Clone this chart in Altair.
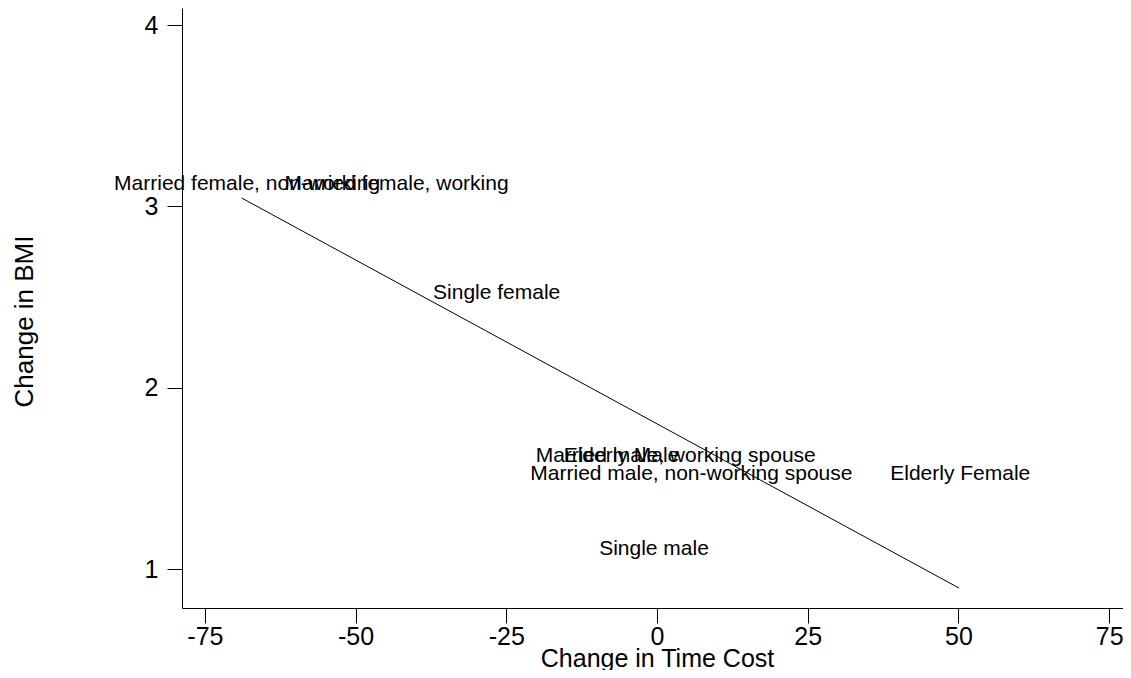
import altair as alt
import pandas as pd

# Group labels and their (change in time cost, change in BMI) values
groups = [
    "Married female, non-working",
    "Married female, working",
    "Single female",
    "Married male, working spouse",
    "Elderly Male",
    "Married male, non-working spouse",
    "Elderly Female",
    "Single male",
]
time_cost = [-68.0, -43.2, -26.6, 3.1, -5.9, 5.7, 50.3, -0.5]
bmi_change = [3.124, 3.124, 2.522, 1.623, 1.623, 1.524, 1.524, 1.110]

# Fitted line end points
fit_x = [-68.9, 50.1]
fit_y = [3.046, 0.895]

x_ticks = [-75, -50, -25, 0, 25, 50, 75]
y_ticks = [1, 2, 3, 4]

FONT = "Liberation Sans"

pts = pd.DataFrame({"x": time_cost, "y": bmi_change, "label": groups})
fit = pd.DataFrame({"x": fit_x, "y": fit_y})

xscale = alt.Scale(domain=[-78.8, 77.3], nice=False, zero=False)
yscale = alt.Scale(domain=[0.785, 4.094], nice=False, zero=False)

xaxis = alt.Axis(
    values=x_ticks, grid=False, domainColor="black", tickColor="black",
    tickSize=15, labelFontSize=25, labelFont=FONT, labelColor="black",
    labelPadding=1, labelExpr="toString(datum.value)",
    title="Change in Time Cost", titleFont=FONT,
    titleFontSize=25, titleFontWeight="normal", titleColor="black",
    titleX=475, titleY=58, titleAlign="center", titleBaseline="alphabetic",
)
yaxis = alt.Axis(
    values=y_ticks, grid=False, domainColor="black", tickColor="black",
    tickSize=15, labelFontSize=25, labelFont=FONT, labelColor="black",
    labelPadding=9, labelExpr="toString(datum.value)",
    title="Change in BMI", titleFont=FONT,
    titleFontSize=26, titleFontWeight="normal", titleColor="black",
    titleAngle=270, titleX=-158, titleY=313, titleAlign="center",
    titleBaseline="middle",
)

text = alt.Chart(pts).mark_text(
    font=FONT, fontSize=21, color="black", align="center", baseline="middle"
).encode(
    x=alt.X("x:Q", scale=xscale, axis=xaxis),
    y=alt.Y("y:Q", scale=yscale, axis=yaxis),
    text="label:N",
)

line = alt.Chart(fit).mark_line(color="black", strokeWidth=1).encode(
    x=alt.X("x:Q", scale=xscale),
    y=alt.Y("y:Q", scale=yscale),
)

chart = (line + text).properties(
    width=941,
    height=600,
    autosize=alt.AutoSizeParams(type="none"),
    padding={"left": 174, "top": 0, "right": 0, "bottom": 62},
    background="white",
).configure_view(stroke=None)

chart.save("out.html", embed_options={"renderer": "svg", "actions": False})
